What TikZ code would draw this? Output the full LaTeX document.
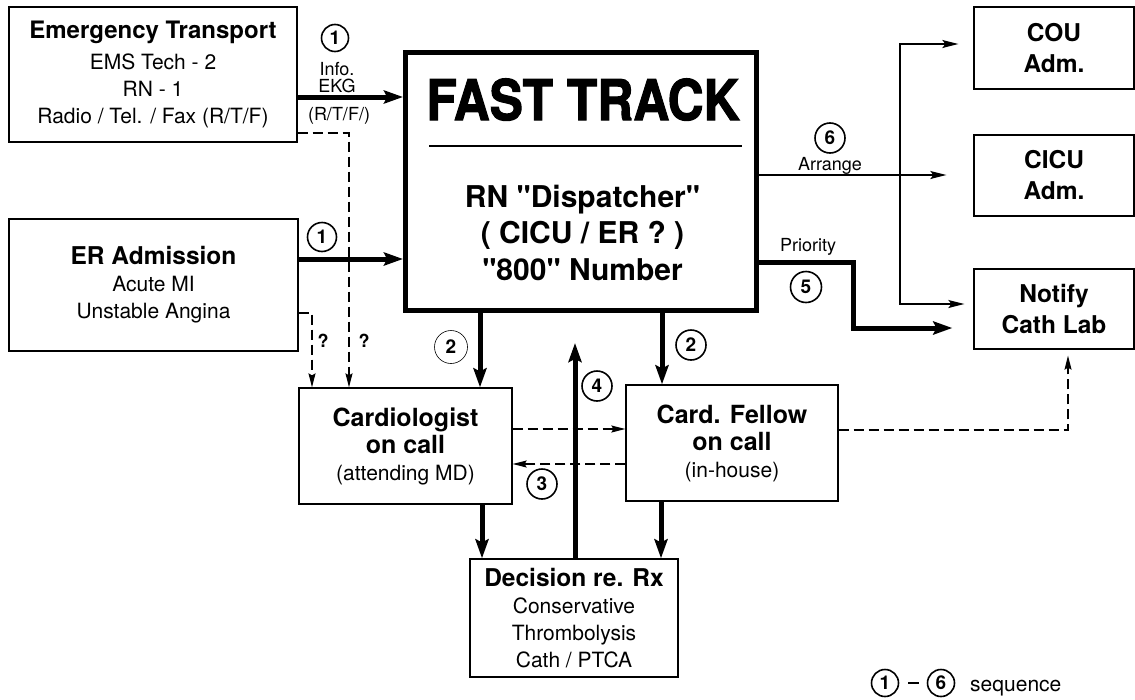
\documentclass[tikz,border=0pt]{standalone}
\usepackage{fontspec}
\usepackage{graphicx}
\setmainfont{TeX Gyre Heros}
\newfontfamily\blackfont{TeX Gyre Heros}[BoldFeatures={FakeBold=2}]
\usetikzlibrary{arrows.meta,calc}
\begin{document}
\begin{tikzpicture}[x=1pt,y=-1pt,
  box/.style={draw, line width=1.3pt, fill=white, inner sep=0pt, align=center, font=\fontsize{21}{27}\selectfont},
  titlebox/.style={draw, line width=1.3pt, fill=white, inner sep=0pt, align=center, font=\bfseries\fontsize{24.5}{31}\selectfont},
  thickarrow/.style={line width=5pt, -{Stealth[length=19pt,width=13pt,inset=3pt]}},
  thinarrow/.style={line width=1.2pt, -{Stealth[length=16pt,width=8pt,inset=3pt]}},
  dasharrow/.style={line width=1.2pt, dash pattern=on 10pt off 5pt, -{Stealth[length=14pt,width=7pt,inset=2pt]}},
  seq/.style={draw, circle, line width=1.6pt, minimum size=29pt, inner sep=0pt, font=\bfseries\fontsize{19}{19}\selectfont},
  seqthin/.style={seq, line width=0.6pt, minimum size=33pt},
  lbl/.style={inner sep=0pt, font=\fontsize{18}{18}\selectfont},
  qlbl/.style={inner sep=0pt, font=\bfseries\fontsize{18}{18}\selectfont},
  bigtext/.style={inner sep=0pt, font=\bfseries\fontsize{30}{37}\selectfont}
]
\fill[white] (0,0) rectangle (1135,699);
\useasboundingbox (0,0) rectangle (1135,699);

% boxes
\node[box, minimum width=288pt, minimum height=135pt] (ET) at (153,74.5)
  {{\bfseries\fontsize{24}{27}\selectfont Emergency Transport}\\[4pt] EMS Tech - 2\\ RN - 1\\ Radio / Tel. / Fax (R/T/F)};
\node[box, minimum width=289pt, minimum height=132pt] (ER) at (153.5,285)
  {{\bfseries\fontsize{24.5}{27}\selectfont ER Admission}\\ Acute MI\\ Unstable Angina};
\node[draw, line width=5pt, fill=white, minimum width=351pt, minimum height=258pt, inner sep=0pt] (FT) at (581,181.5) {};
\node[box, minimum width=213pt, minimum height=116pt] (Cardio) at (405.5,446)
  {{\bfseries\fontsize{25}{30}\selectfont Cardiologist}\\ {\bfseries\fontsize{25}{30}\selectfont on call}\\ (attending MD)};
\node[box, minimum width=212pt, minimum height=116pt] (Fellow) at (732,443)
  {{\bfseries\fontsize{25}{30}\selectfont Card. Fellow}\\ {\bfseries\fontsize{25}{30}\selectfont on call}\\ (in-house)};
\node[box, minimum width=208pt, minimum height=118pt] (Dec) at (574,618)
  {{\bfseries\fontsize{24.5}{27}\selectfont Decision re. Rx}\\ Conservative\\ Thrombolysis\\ Cath / PTCA};
\node[titlebox, minimum width=160pt, minimum height=82pt] (COU) at (1054,48) {COU\\ Adm.};
\node[titlebox, minimum width=160pt, minimum height=81pt] (CICU) at (1054,175.5) {CICU\\ Adm.};
\node[titlebox, minimum width=160pt, minimum height=80pt] (Notify) at (1054,309) {Notify\\ Cath Lab};

% FAST TRACK contents
\node[anchor=base, inner sep=0pt] (fttitle) at (583,120)
  {\scalebox{0.89}[1]{\blackfont\bfseries\fontsize{56}{56}\selectfont FAST TRACK}};
\draw[line width=1.2pt] (429,146) -- (742,146);
\node[bigtext, anchor=base] (disp) at (582.5,207) {RN \textquotedbl Dispatcher\textquotedbl};
\node[bigtext, anchor=base] (cicuer) at (582.5,243) {( CICU / ER ? )};
\node[bigtext, anchor=base] (num) at (582.5,280) {\textquotedbl 800\textquotedbl\ Number};

% connectors
\draw[thickarrow] (ET.east |- 0,97) -- (FT.west |- 0,97);
\draw[thickarrow] (ER.east |- 0,259) -- (FT.west |- 0,259);
\draw[dasharrow] (ET.east |- 0,133) -| (Cardio.north -| 349,0);
\draw[dasharrow] (ER.east |- 0,313) -| (Cardio.north -| 312,0);
\draw[thickarrow] (FT.south -| 480,0) -- (Cardio.north -| 480,0);
\draw[thickarrow] (FT.south -| 662,0) -- (Fellow.north -| 662,0);
\draw[thickarrow] (Cardio.south -| 482,0) -- (Dec.north -| 482,0);
\draw[thickarrow] (Fellow.south -| 661,0) -- (Dec.north -| 661,0);
\coordinate (up4) at (575,343);
\draw[thickarrow] (Dec.north -| 575,0) -- (up4);
\draw[dasharrow] (Cardio.east |- 0,429) -- (Fellow.west |- 0,429);
\draw[dasharrow] (Fellow.west |- 0,464) -- (Cardio.east |- 0,464);
\draw[dasharrow, shorten >=6pt] (Fellow.east |- 0,430) -| (Notify.south -| 1068,0);

\coordinate (junc) at (900,175);
\draw[thinarrow, shorten >=27pt] (FT.east |- 0,175) -- (CICU.west |- 0,175);
\draw[thinarrow, shorten >=15pt] (junc) |- (COU.west |- 0,44);
\draw[thinarrow, shorten >=9pt] (junc) |- (Notify.west |- 0,304);
\draw[thickarrow, shorten >=21pt] (FT.east |- 0,262) -| (853,295) |- (Notify.west |- 0,328);

% labels
\node[seq, minimum size=27pt] (s1a) at (335,38) {1};
\node[lbl, anchor=base] (info) at (337,75.5) {Info.};
\node[lbl, anchor=base] (ekg) at (337,92.5) {EKG};
\node[lbl, anchor=base] (rtf) at (339,120) {(R/T/F/)};
\node[seq] (s1b) at (322,237) {1};
\node[qlbl, anchor=base] (q1) at (323,347) {?};
\node[qlbl, anchor=base] (q2) at (364,347) {?};
\node[seqthin] (s2a) at (451,347) {2};
\node[seq, minimum size=30pt] (s2b) at (691,345) {2};
\node[seq, minimum size=30pt] (s4) at (597,386) {4};
\node[seq, minimum size=30pt] (s3) at (542,484) {3};
\node[seq, minimum size=31pt] (s5) at (806,287) {5};
\node[seq, minimum size=30pt] (s6) at (830,138) {6};
\node[lbl, anchor=base] (arr) at (830,170) {Arrange};
\node[lbl, anchor=base] (prio) at (808,251) {Priority};

% legend
\node[seq, minimum size=27pt] (l1) at (885,683) {1};
\node[seq, minimum size=27pt] (l6) at (941,683) {6};
\draw[line width=1.8pt] ($(l1.east)+(9,0)$) -- ($(l6.west)+(-8,0)$);
\node[anchor=base west, inner sep=0pt, font=\fontsize{21}{21}\selectfont] (seqtxt) at (970,691) {sequence};
\end{tikzpicture}
\end{document}
